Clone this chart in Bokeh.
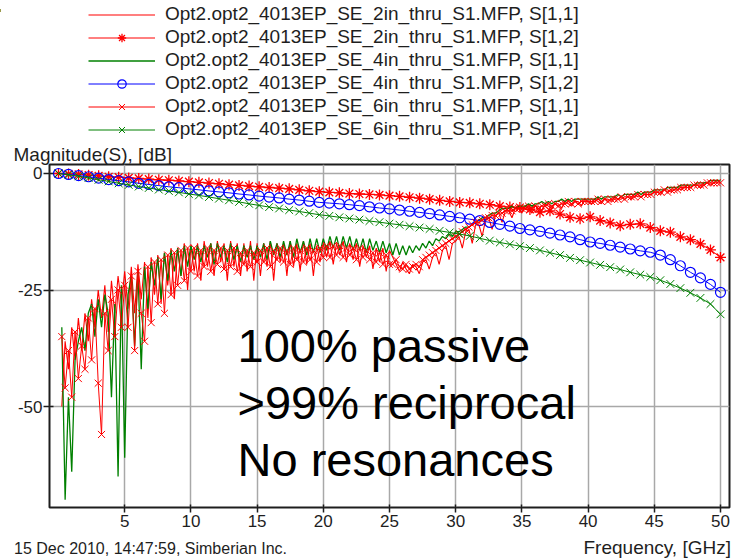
import numpy as np
from bokeh.plotting import figure
from bokeh.layouts import column
from bokeh.models import Range1d, FixedTicker, Legend, LegendItem, Label, Title, Div
from bokeh.embed import file_html
from bokeh.resources import INLINE

FONT = "Liberation Sans"

# Frequency grids [GHz]
FREQ_S12 = np.linspace(0, 50, 67)
FREQ_S11 = np.linspace(0.25, 50, 200)

X_TICKS = [5, 10, 15, 20, 25, 30, 35, 40, 45, 50]
Y_TICKS = [0, -25, -50]
Y_TICK_LABELS = ["0", "-25", "-50"]

SERIES_NAMES = [
    "Opt2.opt2_4013EP_SE_2in_thru_S1.MFP, S[1,1]",
    "Opt2.opt2_4013EP_SE_2in_thru_S1.MFP, S[1,2]",
    "Opt2.opt2_4013EP_SE_4in_thru_S1.MFP, S[1,1]",
    "Opt2.opt2_4013EP_SE_4in_thru_S1.MFP, S[1,2]",
    "Opt2.opt2_4013EP_SE_6in_thru_S1.MFP, S[1,1]",
    "Opt2.opt2_4013EP_SE_6in_thru_S1.MFP, S[1,2]",
]

# Insertion loss |S12| in dB
S12_2IN = [
    0, -0.1, -0.2, -0.35, -0.5, -0.7, -0.8, -0.95, -1.05, -1.2,
    -1.35, -1.45, -1.6, -1.75, -1.9, -2.05, -2.2, -2.4, -2.55, -2.7,
    -2.85, -3.0, -3.15, -3.3, -3.5, -3.7, -3.9, -4.05, -4.15, -4.3,
    -4.4, -4.5, -4.6, -4.75, -4.9, -5.1, -5.3, -5.5, -5.75, -6.0,
    -6.2, -6.3, -6.5, -6.7, -7.0, -7.2, -7.3, -7.7, -8.3, -8.0,
    -8.7, -9.4, -9.7, -9.3, -10.1, -10.6, -11.2, -10.9, -10.8, -11.6,
    -12.3, -12.6, -13.6, -14.2, -15.1, -16.4, -18.0,
]
S12_4IN = [
    0, -0.2, -0.45, -0.7, -1.0, -1.3, -1.55, -1.8, -2.1, -2.35,
    -2.6, -2.85, -3.05, -3.3, -3.5, -3.75, -3.95, -4.15, -4.4, -4.6,
    -4.85, -5.05, -5.25, -5.5, -5.7, -5.95, -6.2, -6.35, -6.5, -6.7,
    -6.9, -7.15, -7.4, -7.6, -7.85, -8.1, -8.35, -8.6, -8.9, -9.2,
    -9.5, -9.8, -10.1, -10.5, -10.9, -11.3, -11.8, -12.1, -12.4, -12.8,
    -13.2, -13.6, -14.2, -14.7, -15.0, -15.4, -15.8, -16.2, -16.6, -16.9,
    -17.5, -18.5, -19.8, -21.2, -22.4, -23.8, -25.5,
]
S12_6IN = [
    0, -0.3, -0.6, -0.95, -1.35, -1.7, -2.1, -2.45, -2.8, -3.1,
    -3.45, -3.75, -4.05, -4.4, -4.7, -5.05, -5.4, -5.75, -6.1, -6.5,
    -6.85, -7.2, -7.5, -7.85, -8.15, -8.5, -8.85, -9.1, -9.4, -9.65,
    -9.9, -10.2, -10.45, -10.75, -11.0, -11.3, -11.6, -11.9, -12.3, -12.65,
    -13.0, -13.4, -13.9, -14.4, -14.8, -15.2, -15.6, -16.0, -16.5, -17.0,
    -17.5, -18.1, -18.6, -19.1, -19.6, -20.1, -20.6, -21.2, -21.7, -22.2,
    -22.9, -23.7, -24.6, -25.6, -26.7, -28.0, -30.2,
]

# Return loss |S11| in dB, 0.25 GHz steps (one row = 5 GHz)
S11_2IN = [
    -50, -36, -42, -33, -40, -31, -38, -30, -36, -27, -33, -25, -31, -24, -34, -23, -30, -22, -28, -21,
    -29, -20, -30, -19.5, -27, -19, -31, -18, -26, -17.5, -28, -17, -24, -16, -27, -16, -22, -15, -25, -15.5,
    -21, -15, -23, -14.5, -20, -15, -22, -14.5, -19, -15, -23, -14.5, -20, -15, -22, -15, -21, -14.5, -23, -15,
    -22, -15, -20, -14.5, -23, -15, -19, -15, -22, -14.5, -20, -15, -21, -14.5, -19.5, -15, -22, -15.5, -19, -15,
    -18, -14.5, -19.5, -15, -17.5, -14.5, -19, -15, -18.5, -15, -20, -15.5, -18, -15.5, -20.5, -16, -19, -16, -21, -16.5,
    -18, -19.5, -21, -19, -20.5, -21.5, -19.5, -20, -21.5, -19, -18.5, -20.5, -18, -17, -19.5, -16.5, -15.5, -18.5, -15, -14.5,
    -13.5, -16, -12.5, -12, -15, -11, -11, -13.5, -10, -9.5, -12, -9, -8.5, -10.5, -8, -8, -9.5, -7.5, -7.5, -8.5,
    -7, -7.5, -8.5, -7, -7, -8, -6.5, -7, -7.5, -6.5, -6.5, -7.5, -6, -6.5, -7, -6, -6, -7, -5.5, -6,
    -6.5, -5.5, -6, -6.5, -5.5, -5.5, -6, -5, -5.5, -5.5, -5, -5, -5.5, -4.5, -5, -5, -4.5, -4.5, -4.5, -4,
    -4, -4.5, -3.5, -3.5, -4, -3.5, -3, -3.5, -3, -2.5, -3, -2.5, -2.5, -3, -2, -2, -2.5, -2, -1.5, -2,
]
S11_4IN = [
    -33, -70, -48, -64, -40, -36, -33, -38, -30, -28, -35, -27, -33, -26, -30, -48, -28, -65, -24, -61,
    -26, -22, -37, -21, -42, -20, -29, -19, -24, -18, -27, -17, -23, -16.5, -21, -16, -22, -15.5, -20, -15.5,
    -18.5, -15.5, -19, -15.5, -18, -15, -19.5, -15, -18, -15.5, -19, -15, -18.5, -15.5, -19, -15.5, -18, -15.5, -18.5, -15.5,
    -18, -15, -18.5, -14.5, -17.5, -15, -18, -14.5, -17.5, -14.5, -18, -14, -17, -14.5, -17.5, -14, -17, -14, -17, -14,
    -16.5, -13.5, -16, -13.5, -16.5, -13.5, -16, -13.5, -16.5, -14, -16.5, -14, -17, -14, -16.5, -14.5, -17, -14.5, -17, -15,
    -17.5, -15, -17.5, -15.5, -17.5, -15.5, -17, -15.5, -16.5, -15, -16, -14.5, -15.5, -14, -14.5, -13.5, -14, -13, -13.5, -12.5,
    -12.5, -12, -11.5, -11.5, -11, -10.5, -10, -9.5, -9.5, -9, -8.5, -8.5, -8, -7.5, -7.5, -7.5, -7, -7.5, -7, -7,
    -7, -6.5, -7, -6.5, -6.5, -6, -6.5, -6, -6.5, -6, -6, -5.5, -6, -5.5, -6, -5.5, -5.5, -5.5, -5.5, -5.5,
    -5.5, -5.5, -5, -5.5, -5, -5, -5, -5, -4.5, -5, -4.5, -4.5, -4.5, -4.5, -4, -4.5, -4, -4, -4, -3.5,
    -3.5, -3.5, -3.5, -3, -3, -3, -3, -2.5, -2.5, -2.5, -2.5, -2.5, -2, -2, -2, -2, -1.5, -1.5, -1.5, -1.5,
]
S11_6IN = [
    -35, -46, -38, -48, -34, -44, -37, -42, -31, -40, -29, -45, -56, -30, -38, -27, -35, -25, -33, -24,
    -33, -22, -38, -21, -30, -36, -20, -32, -19, -28, -18.5, -30, -17.5, -26, -17, -24, -16.5, -23, -16, -21,
    -16, -22, -16.5, -20, -16, -21, -16.5, -19.5, -16, -20.5, -16.5, -20, -16, -21, -17, -19.5, -16.5, -20, -17, -19,
    -16.5, -19, -16, -20, -16.5, -18.5, -16, -19, -16.5, -19.5, -16, -18.5, -16.5, -19, -16, -18.5, -16.5, -19, -16, -18,
    -15.5, -18, -15.5, -17.5, -15.5, -18, -16, -17.5, -16, -18.5, -16, -18, -16.5, -18.5, -17, -19, -17, -19.5, -17.5, -19.5,
    -19.5, -18.5, -20, -20.5, -19.5, -20.5, -20, -19.5, -20, -18.5, -18, -17.5, -17, -16.5, -16, -15.5, -15, -14.5, -14, -13.5,
    -13, -12.5, -12, -11.5, -11, -10.5, -10.5, -10, -9.5, -9.5, -9, -9, -8.5, -8.5, -8, -8, -8, -7.5, -7.5, -7.5,
    -7.5, -7, -7.5, -7, -7.5, -7, -7, -6.5, -7, -6.5, -7, -6.5, -6.5, -6, -6.5, -6, -6.5, -6, -6, -6,
    -6, -6, -5.5, -6, -5.5, -6, -5.5, -5.5, -5.5, -5, -5.5, -5, -5, -5, -4.5, -5, -4.5, -4.5, -4.5, -4,
    -4, -4, -3.5, -4, -3.5, -3.5, -3.5, -3, -3, -3, -3, -2.5, -2.5, -2.5, -2.5, -2, -2, -2, -2, -2,
]

RED = "#ff0000"
GREEN = "#008000"
BLUE = "#0000ff"
INK = "#1e1e1e"

# (colour, marker, marker size, marker line width, line width) for each series
STYLES = [
    (RED, None, 0, 0, 1.1),
    (RED, "asterisk", 11, 1.3, 1),
    (GREEN, None, 0, 0, 1.3),
    (BLUE, "circle", 10, 1.2, 1),
    (RED, "x", 10, 1, 1),
    (GREEN, "x", 11, 1, 1),
]
FREQS = [FREQ_S11, FREQ_S12, FREQ_S11, FREQ_S12, FREQ_S11, FREQ_S12]
VALUES = [S11_2IN, S12_2IN, S11_4IN, S12_4IN, S11_6IN, S12_6IN]


def draw_series(fig, x, y, style):
    color, marker, msize, mwidth, lwidth = style
    rs = [fig.line(x, y, line_color=color, line_width=lwidth)]
    if marker is not None:
        rs.append(fig.scatter(x, y, marker=marker, size=msize, line_color=color,
                              fill_color=None, line_width=mwidth))
    return rs


# ---- small corner mark ----
corner = Div(text='<div style="width:10px;height:3px;background:#7a7a12"></div>',
             width=735, height=3, margin=0)

# ---- legend panel: the series are drawn here too, but the y-range keeps
#      them out of view, so only the legend keys show ----
head = figure(width=735, height=137, x_range=Range1d(-0.68, 50.68), y_range=Range1d(500, 501),
              x_axis_type=None, y_axis_type=None, output_backend="svg", toolbar_location=None,
              min_border=0, background_fill_color="white", border_fill_color="white")
head.outline_line_color = None
head.grid.visible = False
legend_items = []
for name, x, y, style in zip(SERIES_NAMES, FREQS, VALUES, STYLES):
    legend_items.append(LegendItem(label=name, renderers=draw_series(head, x, y, style)))
head.add_layout(Legend(
    items=legend_items, location=(39, 0),
    label_text_font=FONT, label_text_font_size="19px", label_text_color=INK,
    glyph_width=67, glyph_height=21, label_height=21, label_standoff=10,
    spacing=1, padding=0, margin=0,
    border_line_color=None, background_fill_alpha=0,
))

# ---- main chart ----
p = figure(
    width=735, height=397,
    x_range=Range1d(-0.68, 50.68), y_range=Range1d(-71.67, 1.93),
    output_backend="svg", toolbar_location=None,
    min_border_left=49, min_border_right=6, min_border_top=24, min_border_bottom=30,
    background_fill_color="white", border_fill_color="white",
)
p.outline_line_color = INK
p.outline_line_width = 2
p.add_layout(Title(text="Magnitude(S), [dB]", align="left", offset=-36, standoff=0,
                   vertical_align="bottom", text_font=FONT, text_font_size="19px",
                   text_font_style="normal", text_color=INK), "above")

p.xgrid.ticker = FixedTicker(ticks=X_TICKS)
p.ygrid.ticker = FixedTicker(ticks=Y_TICKS)
for g in (p.xgrid, p.ygrid):
    g.grid_line_color = "#a8a8a8"
    g.grid_line_width = 1.5

p.xaxis.ticker = FixedTicker(ticks=X_TICKS)
p.yaxis.ticker = FixedTicker(ticks=Y_TICKS)
p.yaxis.major_label_overrides = dict(zip(Y_TICKS, Y_TICK_LABELS))
for ax in (p.xaxis, p.yaxis):
    ax.axis_line_color = None
    ax.major_tick_line_color = INK
    ax.major_tick_line_width = 1.5
    ax.minor_tick_line_color = None
    ax.major_label_text_font = FONT
    ax.major_label_text_font_size = "17px"
    ax.major_label_text_color = INK
p.xaxis.major_tick_in = 3
p.xaxis.major_tick_out = 5
p.xaxis.major_label_standoff = 2
p.yaxis.major_tick_in = 4
p.yaxis.major_tick_out = 6
p.yaxis.major_label_standoff = 1

for x, y, style in zip(FREQS, VALUES, STYLES):
    draw_series(p, x, y, style)

for txt, yb in (("100% passive", -36.9), (">99% reciprocal", -49.1), ("No resonances", -61.4)):
    p.add_layout(Label(x=13.52, y=yb, text=txt, text_font=FONT, text_font_size="47px",
                       text_color="black", text_baseline="alphabetic"))

# ---- footer line ----
foot = Div(
    text=(
        '<div style="position:relative;width:735px;height:22px;'
        "font-family:'Liberation Sans';color:#1e1e1e;white-space:nowrap\">"
        '<span style="position:absolute;left:14px;top:4px;font-size:16px;line-height:16px">'
        "15 Dec 2010, 14:47:59, Simberian Inc.</span>"
        '<span style="position:absolute;right:4px;top:1px;font-size:19px;line-height:19px">'
        "Frequency, [GHz]</span></div>"
    ),
    width=735, height=22, margin=0,
)

page = column(corner, head, p, foot, spacing=0)
open("out.html", "w").write(file_html(page, INLINE))
